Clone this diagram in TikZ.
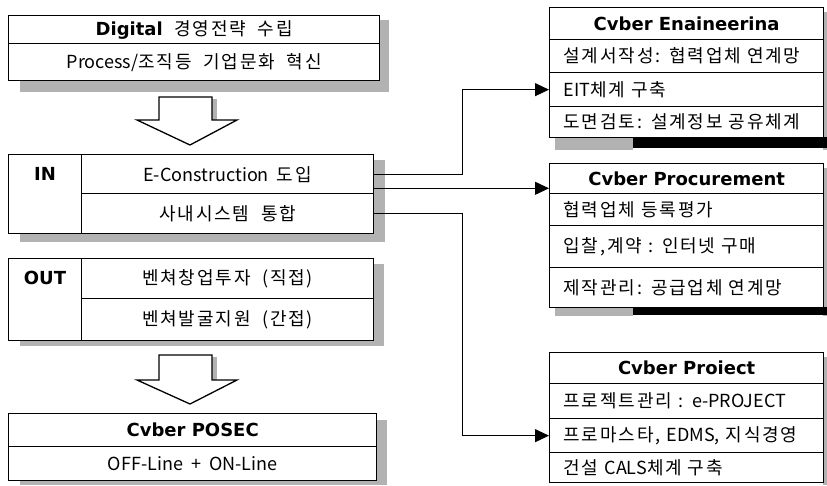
\documentclass[tikz,border=0pt]{standalone}
\usepackage{fontspec}
\setmainfont{Noto Sans CJK KR}[WordSpace=2,LetterSpace=10]
\newfontfamily\lt{Noto Sans CJK KR}[WordSpace=2]
\newfontfamily\hvy{DejaVu Sans}
\usetikzlibrary{arrows.meta,calc}
\begin{document}
\begin{tikzpicture}[x=1pt,y=-1pt,
  every node/.style={font=\fontsize{18}{20}\selectfont},
  box/.style={draw,line width=1.3pt,inner sep=0pt,anchor=north west},
  ttl/.style={font=\hvy\bfseries\fontsize{18}{20}\selectfont},
  lft/.style={inner xsep=14pt,text width=246pt,align=left},
  shd/.style={fill=black!30},
  dshd/.style={fill=black},
  conn/.style={line width=1pt},
  arr/.style={conn,-{Triangle[length=14pt,width=13pt]}},
  hollow/.style={draw,line width=1.3pt,fill=white}]
\useasboundingbox (0,0) rectangle (827,485);
\fill[white] (0,0) rectangle (827,485);
% shadows left
\fill[shd] (379,20) rectangle (389,92);
\fill[shd] (20,80) rectangle (389,92);
\fill[shd] (373,160) rectangle (385,242);
\fill[shd] (20,233) rectangle (385,242);
\fill[shd] (373,264) rectangle (384,346);
\fill[shd] (20,340) rectangle (384,346);
\fill[shd] (376,420) rectangle (387,485);
\fill[shd] (20,480) rectangle (387,485);
\fill[shd] (212,99) rectangle (217,120);
\fill[shd] (212,357) rectangle (217,380);
% shadows right
\fill[shd] (823,12) rectangle (827,150);
\fill[shd] (555,137) rectangle (633,150);
\fill[dshd] (633,137) rectangle (827,148);
\fill[shd] (823,168) rectangle (827,316);
\fill[shd] (555,307) rectangle (633,316);
\fill[dshd] (633,307) rectangle (827,315);
\fill[shd] (823,357) rectangle (827,485);
% top box
\node[box,minimum width=371pt,minimum height=28pt] (top1) at (8,15) {{\hvy\bfseries Digital} 경영전략 수립};
\node[box,minimum width=371pt,minimum height=37pt] (top2) at (8,43) {{\lt Process/}조직등 기업문화 혁신};
% hollow arrow 1
\draw[hollow] (159,97) -- (212,97) -- (212,120) -- (237,120) -- (190,145) -- (137,120) -- (159,120) -- cycle;
% IN box
\node[box,minimum width=73pt,minimum height=79pt] (inL) at (8,154) {};
\node[ttl] (inT) at (45,174) {IN};
\node[box,minimum width=292pt,minimum height=39pt] (inE) at (81,154) {{\lt E-Construction }도입};
\node[box,minimum width=292pt,minimum height=40pt] (inS) at (81,193) {사내시스템 통합};
% OUT box
\node[box,minimum width=73pt,minimum height=82pt] (outL) at (8,258) {};
\node[ttl] (outT) at (45,278) {OUT};
\node[box,minimum width=292pt,minimum height=40pt] (outA) at (81,258) {벤쳐창업투자 (직접)};
\node[box,minimum width=292pt,minimum height=42pt] (outB) at (81,298) {벤쳐발굴지원 (간접)};
% hollow arrow 2
\draw[hollow] (159,355) -- (212,355) -- (212,380) -- (237,380) -- (190,404) -- (137,380) -- (159,380) -- cycle;
% POSEC
\node[box,minimum width=368pt,minimum height=33pt,ttl] (posT) at (8,413) {Cvber POSEC};
\node[box,minimum width=368pt,minimum height=34pt] (posB) at (8,446) {{\lt OFF-Line + ON-Line}};
% Engineering
\node[box,minimum width=274pt,minimum height=32pt,ttl] (e0) at (549,7) {Cvber Enaineerina};
\node[box,lft,minimum height=33pt] (e1) at (549,39) {설계서작성: 협력업체 연계망};
\node[box,lft,minimum height=34pt] (e2) at (549,72) {{\lt EIT}체계 구축};
\node[box,lft,minimum height=31pt] (e3) at (549,106) {도면검토: 설계정보 공유체계};
% Procurement
\node[box,minimum width=274pt,minimum height=30pt,ttl] (p0) at (549,163) {Cvber Procurement};
\node[box,lft,minimum height=32pt] (p1) at (549,193) {협력업체 등록평가};
\node[box,lft,minimum height=42pt] (p2) at (549,225) {입찰,계약 : 인터넷 구매};
\node[box,lft,minimum height=40pt] (p3) at (549,267) {제작관리: 공급업체 연계망};
% Project
\node[box,minimum width=274pt,minimum height=31pt,ttl] (j0) at (549,352) {Cvber Proiect};
\node[box,lft,minimum height=35pt] (j1) at (549,383) {프로젝트관리 : {\lt e-PROJECT}};
\node[box,lft,minimum height=34pt] (j2) at (549,418) {프로마스타, {\lt EDMS}, 지식경영};
\node[box,lft,minimum height=30pt] (j3) at (549,452) {건설 {\lt CALS}체계 구축};
% connectors
\coordinate (kx) at (462,0);
\draw[arr] (inE.east) -- (inE.east -| kx) |- (e2.west);
\draw[arr] ($(inE.south east)+(0,-6)$) coordinate (c2s) -- (c2s -| p0.west);
\draw[arr] (inS.east) -- (inS.east -| kx) |- (j2.west);
\end{tikzpicture}
\end{document}
